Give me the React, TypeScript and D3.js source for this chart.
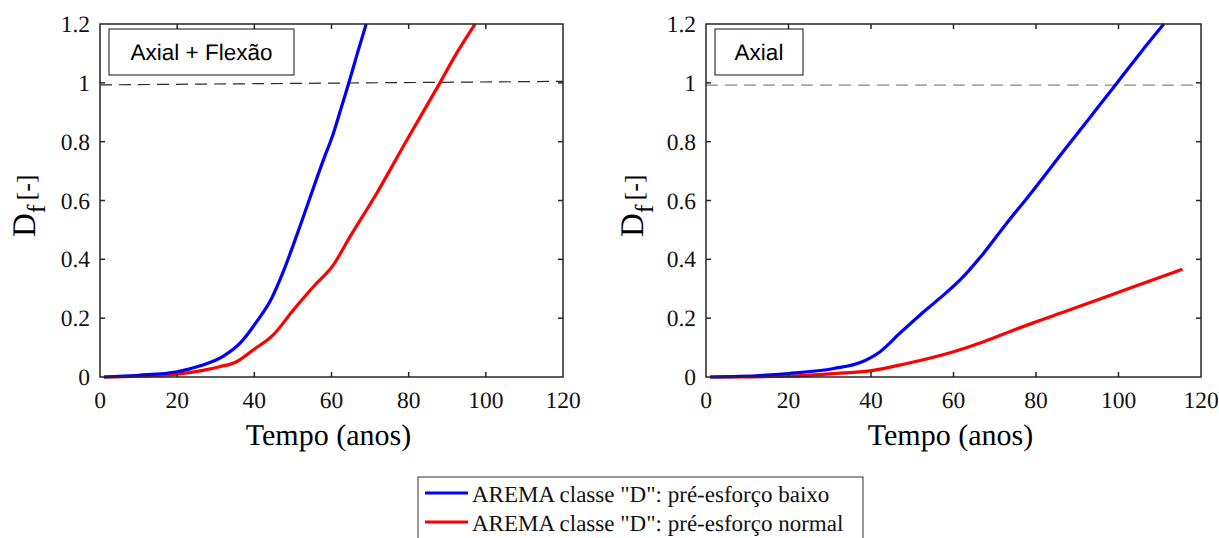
import React, { useRef, useEffect } from "react";
import * as d3 from "d3";

const width = 1219;
const height = 538;

const xTicks = [0, 20, 40, 60, 80, 100, 120];
const yTicks = [0, 0.2, 0.4, 0.6, 0.8, 1, 1.2];

// Axial + Flexão
const leftBlueT = [1, 10, 20, 26, 32, 36.3, 40.6, 44.5, 47.5, 50.1, 52.7, 57.9, 60.5, 62.6, 64.5, 66.7, 69];
const leftBlueV = [0, 0.006, 0.018, 0.038, 0.071, 0.115, 0.188, 0.268, 0.358, 0.449, 0.545, 0.738, 0.829, 0.919, 1.0, 1.1, 1.2];
const leftRedT = [1, 10, 20, 26, 31, 35.4, 39.7, 44.9, 50.1, 55.3, 60.5, 64.8, 71.7, 79.5, 88.1, 92.4, 97.2];
const leftRedV = [0, 0.003, 0.01, 0.021, 0.035, 0.052, 0.092, 0.143, 0.228, 0.307, 0.381, 0.477, 0.624, 0.805, 1.0, 1.1, 1.2];
const leftLimit = [[0, 0.993], [120, 1.005]];

// Axial
const rightBlueT = [1, 8, 20, 31, 37.4, 42.2, 47, 51.9, 56.7, 61.6, 67.3, 72.9, 77.7, 87.4, 93.8, 99.5, 105.2, 111];
const rightBlueV = [0, 0.002, 0.012, 0.029, 0.049, 0.086, 0.149, 0.211, 0.268, 0.33, 0.421, 0.523, 0.606, 0.781, 0.895, 0.997, 1.1, 1.2];
const rightRedT = [1, 20, 31.7, 39.8, 48.7, 60, 67.3, 72.5, 79.3, 87.4, 95.5, 103.5, 115.5];
const rightRedV = [0, 0.003, 0.012, 0.021, 0.046, 0.086, 0.12, 0.148, 0.184, 0.224, 0.265, 0.306, 0.366];
const rightLimit = [[0, 0.992], [120, 0.992]];

const legendLabels = [
    'AREMA classe "D": pré-esforço baixo',
    'AREMA classe "D": pré-esforço normal',
];
const blue = "#0000ff";
const red = "#ff0000";
const serif = "Liberation Serif";
const sans = "Liberation Sans";

const panels = [
    { left: 100, right: 563, title: "Axial + Flexão", boxW: 185, yLabelX: 35, blue: [leftBlueT, leftBlueV], red: [leftRedT, leftRedV], limit: leftLimit, limitColor: "#2a2a2a" },
    { left: 706, right: 1201, title: "Axial", boxW: 88, yLabelX: 643, blue: [rightBlueT, rightBlueV], red: [rightRedT, rightRedV], limit: rightLimit, limitColor: "#888" },
];

const App = () => {
    const ref = useRef(null);

    const chart = () => {
        const svg = d3.select(ref.current)
            .attr("width", width)
            .attr("height", height)
            .attr("viewBox", [0, 0, width, height])
            .attr("text-rendering", "geometricPrecision");
        svg.selectAll("*").remove();
        svg.append("rect").attr("width", width).attr("height", height).attr("fill", "white");

        const top = 24;
        const bottom = 377;
        const axisColor = "#262626";

        panels.forEach(p => {
            const x = d3.scaleLinear().domain([0, 120]).range([p.left, p.right]);
            const y = d3.scaleLinear().domain([0, 1.2]).range([bottom, top]);
            const g = svg.append("g");

            // limit dashed line
            g.append("path")
                .attr("d", d3.line()(p.limit.map(d => [x(d[0]), y(d[1])])))
                .attr("stroke", p.limitColor)
                .attr("stroke-width", 1.2)
                .attr("stroke-dasharray", "12,7")
                .attr("fill", "none");

            const drawSeries = (s: number[][], color: string) => {
                const pts = s[0].map((t, i) => [x(t), y(s[1][i])] as [number, number]);
                g.append("path")
                    .attr("d", d3.line().curve(d3.curveMonotoneX)(pts))
                    .attr("stroke", color)
                    .attr("stroke-width", 3.2)
                    .attr("fill", "none");
            };
            drawSeries(p.red, red);
            drawSeries(p.blue, blue);

            // frame
            g.append("rect")
                .attr("x", p.left).attr("y", top)
                .attr("width", p.right - p.left).attr("height", bottom - top)
                .attr("fill", "none").attr("stroke", axisColor).attr("stroke-width", 1.5);

            // ticks inward on all sides
            const tl = 5;
            xTicks.slice(1, -1).forEach(t => {
                g.append("line").attr("x1", x(t)).attr("x2", x(t)).attr("y1", bottom).attr("y2", bottom - tl).attr("stroke", axisColor).attr("stroke-width", 1.5);
                g.append("line").attr("x1", x(t)).attr("x2", x(t)).attr("y1", top).attr("y2", top + tl).attr("stroke", axisColor).attr("stroke-width", 1.5);
            });
            yTicks.slice(1, -1).forEach(t => {
                g.append("line").attr("x1", p.left).attr("x2", p.left + tl).attr("y1", y(t)).attr("y2", y(t)).attr("stroke", axisColor).attr("stroke-width", 1.5);
                g.append("line").attr("x1", p.right).attr("x2", p.right - tl).attr("y1", y(t)).attr("y2", y(t)).attr("stroke", axisColor).attr("stroke-width", 1.5);
            });

            // tick labels
            g.append("g").selectAll("text").data(xTicks).join("text")
                .attr("x", d => x(d)).attr("y", bottom + 31)
                .attr("text-anchor", "middle")
                .style("font-family", serif).style("font-size", "23.5px").attr("fill", "#111")
                .text(d => d3.format("d")(d));
            g.append("g").selectAll("text").data(yTicks).join("text")
                .attr("x", p.left - 10).attr("y", d => y(d) + 8)
                .attr("text-anchor", "end")
                .style("font-family", serif).style("font-size", "23.5px").attr("fill", "#111")
                .text(d => String(d));

            // axis titles
            g.append("text")
                .attr("x", (p.left + p.right) / 2 - 3).attr("y", 445)
                .attr("text-anchor", "middle")
                .style("font-family", serif).style("font-size", "30px").attr("fill", "#000")
                .text("Tempo (anos)");
            const yl = g.append("text")
                .attr("transform", `translate(${p.yLabelX}, 237) rotate(-90)`)
                .style("font-family", serif).style("font-size", "33px").attr("fill", "#000");
            yl.append("tspan").text("D");
            yl.append("tspan").style("font-size", "26px").attr("dy", 10).text("f");
            yl.append("tspan").style("font-size", "26px").attr("dy", -10).attr("dx", 4).text("[-]");

            // title box
            g.append("rect")
                .attr("x", p.left + 9).attr("y", 29)
                .attr("width", p.boxW).attr("height", 46)
                .attr("fill", "white").attr("stroke", "#111").attr("stroke-width", 1);
            g.append("text")
                .attr("x", p.left + 9 + p.boxW / 2).attr("y", 60)
                .attr("text-anchor", "middle")
                .style("font-family", sans).style("font-size", "22.5px").attr("fill", "#000")
                .text(p.title);
        });

        // legend
        const lg = svg.append("g");
        lg.append("rect")
            .attr("x", 418).attr("y", 477).attr("width", 445).attr("height", 70)
            .attr("fill", "white").attr("stroke", "#333").attr("stroke-width", 1);
        legendLabels.forEach((label, i) => {
            const ly = 493 + i * 29;
            lg.append("line").attr("x1", 425).attr("x2", 468).attr("y1", ly).attr("y2", ly)
                .attr("stroke", i === 0 ? blue : red).attr("stroke-width", 3);
            lg.append("text").attr("x", 472).attr("y", ly + 9)
                .style("font-family", serif).style("font-size", "23px").attr("fill", "#111")
                .text(label);
        });
    };

    useEffect(() => {
        chart();
    }, []);

    return (
        <div style={{ position: "absolute", left: 0, top: 0 }}>
            <svg ref={ref} style={{ display: "block" }} />
        </div>
    );
};

export default App;
